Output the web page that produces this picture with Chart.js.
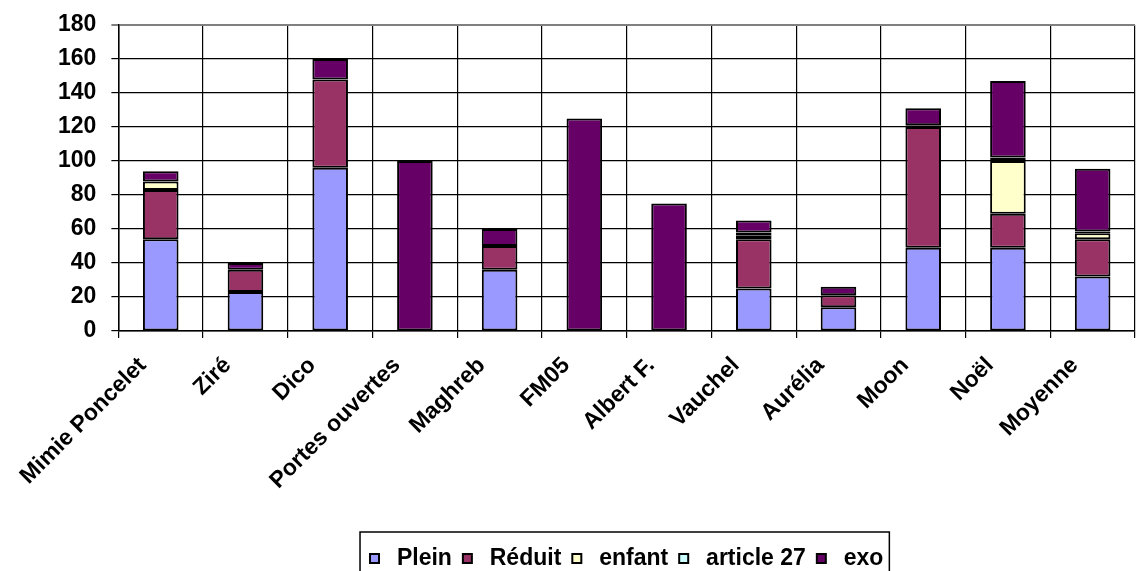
<!DOCTYPE html>
<html>
<head>
<meta charset="utf-8">
<script src="https://cdn.jsdelivr.net/npm/chart.js@4"></script>
<style>
  body { margin: 0; background: #fff; }
  #wrap { width: 1139px; height: 571px; }
</style>
</head>
<body>
<div id="wrap"><canvas id="chart" width="1139" height="571"></canvas></div>
<script>
const categories = ["Mimie Poncelet", "Ziré", "Dico", "Portes ouvertes", "Maghreb", "FM05",
  "Albert F.", "Vauchel", "Aurélia", "Moon", "Noël", "Moyenne"];

// null = segment absent
const plein    = [54, 23, 96, null, 36, null, null, 25, 14, 49, 49, 32];
const reduit   = [29, 13, 52, null, 14, null, null, 29, 7, 71, 20, 22];
const enfant   = [5, null, null, null, null, null, null, 2, null, null, 31, 3.5];
const article27 = [null, null, null, null, null, null, null, 2, null, 1, 2, 1];
const exo      = [6, 4, 12, 100, 10, 125, 75, 7, 5, 10, 45, 37];

const yTicks = [0, 20, 40, 60, 80, 100, 120, 140, 160, 180];

const font = { family: "'Liberation Sans', Arial, sans-serif", size: 23, weight: 'bold' };

let mkSet = (label, data, color) => ({
  label: label,
  data: data,
  backgroundColor: color,
  borderColor: '#000',
  borderWidth: 2,
  borderSkipped: false,
  categoryPercentage: 1,
  barPercentage: 0.42,
});

// box round the legend, like the Excel one
const legendFrame = {
  id: 'legendFrame',
  afterDraw(chart) {
    const lg = chart.legend;
    if (!lg || !lg.legendHitBoxes.length) return;
    let left = Infinity, right = -Infinity, top = Infinity, bottom = -Infinity;
    for (const b of lg.legendHitBoxes) {
      left = Math.min(left, b.left);
      right = Math.max(right, b.left + b.width);
      top = Math.min(top, b.top);
      bottom = Math.max(bottom, b.top + b.height);
    }
    const c = chart.ctx;
    c.save();
    c.strokeStyle = '#000';
    c.lineWidth = 1.5;
    c.strokeRect(left - 10, top - 15, right - left + 16, bottom - top + 30);
    c.restore();
  }
};

new Chart(document.getElementById('chart'), {
  type: 'bar',
  data: {
    labels: categories,
    datasets: [
      mkSet('Plein', plein, '#9999FF'),
      mkSet('Réduit', reduit, '#993366'),
      mkSet('enfant', enfant, '#FFFFCC'),
      mkSet('article 27', article27, '#CCFFFF'),
      mkSet('exo', exo, '#660066'),
    ],
  },
  options: {
    responsive: false,
    animation: false,
    layout: { padding: { left: 43, right: 4, top: 25, bottom: -9 } },
    plugins: {
      tooltip: { enabled: false },
      legend: {
        position: 'bottom',
        fullSize: false,
        labels: {
          color: '#000',
          font: font,
          boxWidth: 9,
          boxHeight: 9,
          padding: 11,
          // a little more room between the square and the text
          generateLabels: (chart) =>
            Chart.defaults.plugins.legend.labels.generateLabels(chart)
              .map(it => Object.assign(it, { text: ' ' + it.text })),
        },
      },
    },
    scales: {
      x: {
        stacked: true,
        offset: true,
        grid: {
          offset: true,
          color: (ctx) => ctx.index === categories.length ? '#808080' : '#000',
          lineWidth: 1.2,
          tickLength: 7,
        },
        border: { color: '#000', width: 1.5 },
        ticks: {
          color: '#000',
          font: font,
          minRotation: 45,
          maxRotation: 45,
          autoSkip: false,
          padding: 14,
          labelOffset: -18,
        },
        afterFit: (axis) => {
          axis.height = 205;
          axis.paddingLeft = 0;
          axis.paddingRight = 0;
        },
      },
      y: {
        stacked: true,
        min: 0,
        max: 180,
        afterBuildTicks: (axis) => { axis.ticks = yTicks.map(v => ({ value: v })); },
        afterFit: (axis) => {
          axis.paddingTop = 0;
          axis.paddingBottom = 0;
        },
        grid: {
          color: (ctx) => ctx.tick && ctx.tick.value === 180 ? '#808080' : '#000',
          lineWidth: (ctx) => ctx.tick && ctx.tick.value === 180 ? 2 : 1.2,
          tickLength: 7,
        },
        border: { color: '#000', width: 1.5 },
        ticks: {
          color: '#000',
          font: font,
          padding: 15,
        },
      },
    },
  },
  plugins: [legendFrame],
});
</script>
</body>
</html>
